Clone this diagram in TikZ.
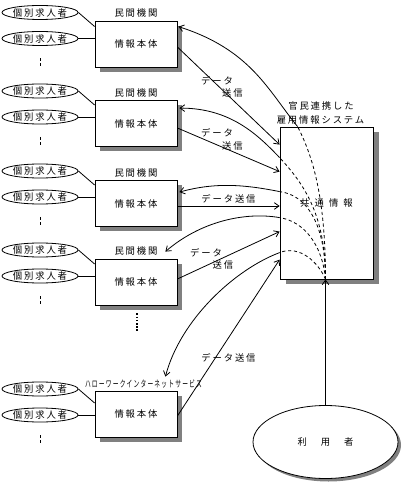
\documentclass[tikz,border=0pt]{standalone}
\usepackage{fontspec}
\usepackage{graphicx}
\newfontfamily\jp{Noto Sans CJK JP}[LetterSpace=20]
\usetikzlibrary{arrows.meta,shadows,calc,shapes.geometric}
\begin{document}
\begin{tikzpicture}[x=0.75pt,y=-0.75pt,
  font=\jp\fontsize{7pt}{8.4pt}\selectfont,
  line width=0.6pt,
  >={Straight Barb[length=3.5pt,width=5pt]},
  pbox/.style={draw, fill=white, minimum width=61.5pt, minimum height=34.5pt, inner sep=0pt,
    drop shadow={shadow xshift=3.6pt, shadow yshift=-3.6pt, fill=black!50, opacity=1}},
  person/.style={draw, ellipse, fill=white, minimum width=57pt, minimum height=10.5pt,
    inner xsep=-0.6pt, inner ysep=-2pt},
  sysbox/.style={draw, fill=white, minimum width=69.75pt, minimum height=114pt, inner sep=0pt,
    drop shadow={shadow xshift=4.5pt, shadow yshift=-4pt, fill=black!50, opacity=1}},
  userell/.style={draw, ellipse, fill=white, minimum width=108.75pt, minimum height=54.75pt, inner sep=0pt,
    drop shadow={shadow xshift=2.25pt, shadow yshift=-2.25pt, fill=black!50, opacity=1}},
  txt/.style={inner sep=0pt},
  vdash/.style={dash pattern=on 2.25pt off 1.5pt},
  idash/.style={dash pattern=on 2.4pt off 2pt},
  vdots/.style={line width=1.5pt, dash pattern=on 1.2pt off 1.2pt}
]
\useasboundingbox (0,0) rectangle (404,484);

% groups of private bodies
\foreach \i/\by/\ea/\eb in {1/44/12.5/38.5, 2/123.5/91/117, 3/203.5/171/197, 4/282/250/276, 5/414/389/415}{
  \node[pbox] (b\i) at (136,\by) {情報本体};
  \node[person] (ea\i) at (40,\ea) {個別求人者};
  \node[person] (eb\i) at (40,\eb) {個別求人者};
  \path (b\i.west |- ea\i.east) ++(0,14) coordinate (t\i);
  \draw (ea\i.east) -- (t\i);
  \draw (eb\i.east) -- (eb\i.east -| b\i.west);
  \path (eb\i.center) ++(0,20) coordinate (va\i) ++(0,8) coordinate (vb\i);
  \draw[vdash] (va\i) -- (vb\i);
}
\foreach \i in {1,2,3,4}{
  \node[txt] (lab\i) at ($(b\i.north)+(0,-7.5)$) {民間機関};
}
\node[txt] (lab5) at (143.5,384) {\scalebox{0.62}[1]{ハローワークインターネットサービス}};

% more bodies
\path (b4.south) ++(1,8) coordinate (dA) ++(0,18) coordinate (dB);
\draw[vdots] (dA) -- (dB);

% system
\node[sysbox] (sys) at (326.5,203) {共\hspace{3.8pt}通\hspace{3.8pt}情\hspace{3.8pt}報};
\node[txt] (sl1) at (321,106) {官民連携した};
\node[txt] (sl2) at (320.5,120) {雇用情報システム};

% user
\node[userell] (usr) at (325.5,442) {利\hspace{10.5pt}用\hspace{10.5pt}者};
\coordinate (conv) at (usr.north |- sys.south);
\draw[->] (usr.north) -- (conv);

% edge points on the system box
\coordinate (x1) at ($(sys.north west)+(18,0)$);
\coordinate (x2) at ($(sys.north west)+(0,31)$);
\coordinate (x3) at ($(sys.north west)+(0,65)$);
\coordinate (x4) at ($(sys.north west)+(0,91)$);
\coordinate (x5) at ($(sys.north west)+(0,126)$);
% targets on private bodies
\coordinate (r1) at ($(b1.north east)+(1,6)$);
\coordinate (r2) at ($(b2.north east)+(2,8)$);
\coordinate (r3) at ($(b3.north east)+(2,12)$);
\coordinate (r4) at ($(b4.north east)+(-12,-7)$);
\coordinate (r5) at ($(b5.north east)+(-12,-14)$);

% curves from system to private bodies
\draw[idash] (conv) .. controls +(0,-77) and +(17,33) .. (x1);
\draw[->] (x1) .. controls +(-30,-37) and +(72,23) .. (r1);
\draw[idash] (conv) .. controls +(0,-64) and +(25,27) .. (x2);
\draw[->] (x2) .. controls +(-22,-23) and +(51,0) .. (r2);
\draw[idash] (conv) .. controls +(0,-59) and +(25,3) .. (x3);
\draw[->] (x3) .. controls +(-35,-7) and +(36,-10) .. (r3);
\draw[idash] (conv) .. controls +(-3,-34) and +(25,4) .. (x4);
\draw[->] (x4) .. controls +(-35,-6) and +(35,-30) .. (r4);
\draw[idash] (conv) .. controls +(-7,-17) and +(20,-8) .. (x5);
\draw[->] (x5) .. controls +(-45,17) and +(15,-57) .. (r5);

% data sending arrows
\coordinate (s1) at ($(b1.east)+(0,3)$);
\coordinate (s2) at ($(b2.east)+(0,4.5)$);
\coordinate (s3) at ($(b3.east)+(0,2.5)$);
\coordinate (s4) at ($(b4.east)+(0,-3)$);
\coordinate (s5) at ($(b5.east)+(0,2)$);
\coordinate (y1) at ($(sys.north west)+(0,18)$);
\coordinate (y2) at ($(sys.north west)+(0,45)$);
\coordinate (y4) at ($(sys.north west)+(0,105)$);
\coordinate (y5) at ($(sys.north west)+(0,133)$);
\draw[->] (s1) -- (y1);
\draw[->] (s2) -- (y2);
\draw[->] (s3) -- (s3 -| sys.west);
\draw[->] (s4) -- (y4);
\draw[->] (s5) -- (y5);

% labels
\node[txt] (d1a) at (217,81) {データ};
\node[txt] (d1b) at (232.5,93) {送信};
\node[txt] (d2a) at (217,133) {データ};
\node[txt] (d2b) at (232.5,146) {送信};
\node[txt] (d3) at (228.5,199) {データ送信};
\node[txt] (d4a) at (206,253) {データ};
\node[txt] (d4b) at (223,265) {送信};
\node[txt] (d5) at (228.5,358) {データ送信};
\end{tikzpicture}
\end{document}
